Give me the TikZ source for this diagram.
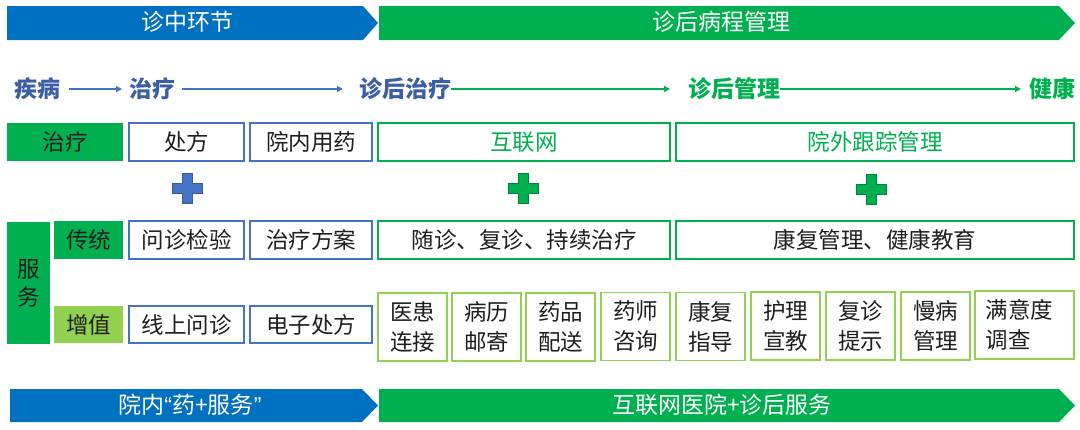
\documentclass[tikz,border=0pt]{standalone}
\usepackage{fontspec}
\setmainfont{Noto Sans CJK SC}
\newfontfamily\latinq{Liberation Sans}
\usetikzlibrary{arrows.meta}
\definecolor{bblue}{HTML}{0070C0}
\definecolor{bgreen}{HTML}{00B050}
\definecolor{lgreen}{HTML}{92D050}
\definecolor{eblue}{HTML}{4472C4}
\definecolor{tblue}{HTML}{3B5EA6}
\definecolor{txt}{HTML}{1E1E1E}
\begin{document}
\begin{tikzpicture}[x=1pt,y=-1pt,
  every node/.style={inner sep=0pt,outer sep=0pt,font=\fontsize{22.5}{30}\selectfont},
  bluebox/.style={draw=eblue,line width=1.5pt,fill=white,text=txt,minimum height=38pt},
  greenbox/.style={draw=bgreen,line width=1.8pt,fill=white,text=txt,minimum height=38pt},
  lgbox/.style={draw=lgreen,line width=1.8pt,fill=white,text=txt,align=center,minimum height=68pt,minimum width=69pt},
  gfill/.style={fill=bgreen,text=txt,minimum height=38pt},
  lgfill/.style={fill=lgreen,text=txt,minimum height=37pt},
  bannertext/.style={text=white,font=\fontsize{23}{28}\selectfont},
  flowblue/.style={text=tblue,font=\bfseries\fontsize{23}{26}\selectfont,anchor=west},
  flowgreen/.style={text=bgreen,font=\bfseries\fontsize{23}{26}\selectfont,anchor=west},
  bluearrow/.style={draw=eblue,line width=1.2pt,-{Triangle[length=6pt,width=6pt]}},
  greenarrow/.style={draw=bgreen,line width=1.2pt,-{Triangle[length=6pt,width=6pt]}},
  plussign/.pic={\path[pic actions] (-5,-15) -- (5,-15) -- (5,-5) -- (15,-5) -- (15,5) -- (5,5) -- (5,15) -- (-5,15) -- (-5,5) -- (-15,5) -- (-15,-5) -- (-5,-5) -- cycle;}
]
\useasboundingbox (0,0) rectangle (1080,429);

% top banners
\fill[bblue] (7,6) -- (363,6) -- (378,23) -- (363,40) -- (7,40) -- cycle;
\fill[bgreen] (379,6) -- (1059,6) -- (1075,23) -- (1059,40) -- (379,40) -- cycle;
\node[bannertext] (t1) at (187,22) {诊中环节};
\node[bannertext] (t2) at (721,22) {诊后病程管理};

% flow row
\node[flowblue] (f1) at (15,89) {疾病};
\node[flowblue] (f2) at (129,89) {治疗};
\node[flowblue] (f3) at (359,89) {诊后治疗};
\node[flowgreen] (f4) at (688,89) {诊后管理};
\node[flowgreen] (f5) at (1029,89) {健康};
\draw[bluearrow,shorten <=8pt,shorten >=7pt] (f1.east) -- (f2.west);
\draw[bluearrow,shorten <=7pt,shorten >=16pt] (f2.east) -- (f3.west);
\draw[greenarrow,shorten >=18pt] (f3.east) -- (f4.west);
\draw[greenarrow,shorten >=8pt] (f4.east) -- (f5.west);

% row 1
\node[gfill,minimum width=116pt] (zl) at (65,142) {治疗};
\node[bluebox,minimum width=115pt] (a1) at (186.5,142) {处方};
\node[bluebox,minimum width=122pt] (a2) at (311,142) {院内用药};
\node[greenbox,minimum width=292pt,text=bgreen] (a3) at (524,142) {互联网};
\node[greenbox,minimum width=398pt,text=bgreen] (a4) at (875,142) {院外跟踪管理};

% plus signs
\pic[fill=eblue,draw=eblue!80!black,line width=0.6pt] at (187,188) {plussign};
\pic[fill=bgreen,draw=bgreen!75!black,line width=0.6pt] at (523,188) {plussign};
\pic[fill=bgreen,draw=bgreen!75!black,line width=0.6pt] at (871,189) {plussign};

% service label
\node[fill=bgreen,text=txt,minimum width=43pt,minimum height=122pt,align=center,font=\fontsize{22.5}{28}\selectfont] (fw) at (28.5,283) {服\\务};

% row 2
\node[gfill,minimum width=69pt] (ct) at (88.5,240) {传统};
\node[bluebox,minimum width=115pt] (b1) at (186.5,240) {问诊检验};
\node[bluebox,minimum width=122pt] (b2) at (311,240) {治疗方案};
\node[greenbox,minimum width=292pt] (b3) at (524,240) {随诊、复诊、持续治疗};
\node[greenbox,minimum width=398pt] (b4) at (875,240) {康复管理、健康教育};

% row 3
\node[lgfill,minimum width=69pt] (zz) at (88.5,324.5) {增值};
\node[bluebox,minimum width=115pt,minimum height=37pt] (c1) at (186.5,324.5) {线上问诊};
\node[bluebox,minimum width=122pt,minimum height=37pt] (c2) at (311,324.5) {电子处方};
\node[lgbox] (s1) at (412.5,327) {医患\\连接};
\node[lgbox] (s2) at (486.5,327) {病历\\邮寄};
\node[lgbox] (s3) at (560.5,327) {药品\\配送};
\node[lgbox] (s4) at (635.5,326.5) {药师\\咨询};
\node[lgbox] (s5) at (710.5,326.5) {康复\\指导};
\node[lgbox] (s6) at (785.5,326) {护理\\宣教};
\node[lgbox] (s7) at (860.5,326) {复诊\\提示};
\node[lgbox] (s8) at (935.5,326) {慢病\\管理};
\node[lgbox,minimum width=99pt,align=left,text width=78pt] (s9) at (1024.5,325) {满意度\\调查};

% bottom banners
\fill[bblue] (10,389) -- (362,389) -- (378,405.5) -- (362,422) -- (10,422) -- cycle;
\fill[bgreen] (379,389) -- (1059,389) -- (1075,405.5) -- (1059,422) -- (379,422) -- cycle;
\node[bannertext] (u1) at (190,405) {院内{\latinq “}药+服务{\latinq ”}};
\node[bannertext] (u2) at (722,405) {互联网医院+诊后服务};
\end{tikzpicture}
\end{document}
